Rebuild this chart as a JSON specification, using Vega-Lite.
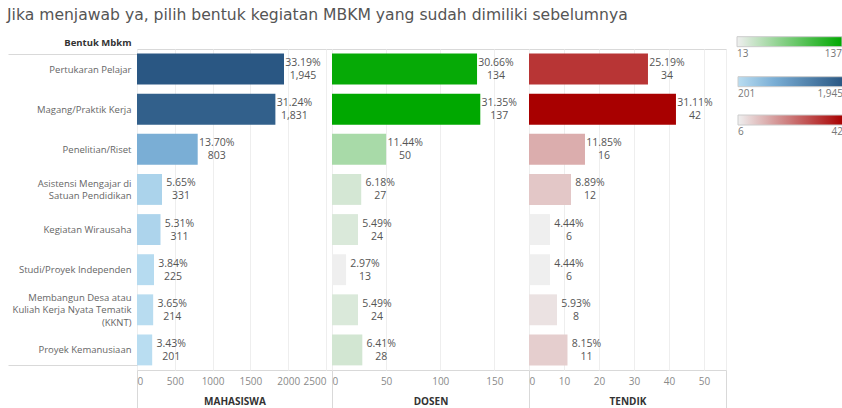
{
  "$schema": "https://vega.github.io/schema/vega-lite/v6.json",
  "padding": {"left": 7, "top": 7, "right": 0, "bottom": 0},
  "background": "white",
  "bounds": "flush",
  "title": {
    "text": "Jika menjawab ya, pilih bentuk kegiatan MBKM yang sudah dimiliki sebelumnya",
    "anchor": "start",
    "frame": "bounds",
    "font": "DejaVu Sans",
    "fontSize": 15.6,
    "fontWeight": "normal",
    "color": "#555555",
    "offset": 13
  },
  "config": {
    "font": "Open Sans",
    "view": {"stroke": "#d9d9d9", "strokeWidth": 1},
    "concat": {"spacing": 0},
    "axisX": {
      "labelFontSize": 10,
      "labelColor": "#8a8a8a",
      "ticks": true,
      "tickSize": 38,
      "tickColor": "#d9d9d9",
      "labelPadding": -32,
      "domain": false,
      "gridColor": "#eeeeee",
      "labelFlush": 10,
      "format": "d",
      "titleFontSize": 10,
      "titleFontWeight": "bold",
      "titleColor": "#333333",
      "titleBaseline": "middle",
      "titleY": 31
    },
    "legend": {
      "orient": "none",
      "direction": "horizontal",
      "gradientLength": 105,
      "gradientThickness": 10,
      "gradientStrokeColor": "#cccccc",
      "gradientStrokeWidth": 1,
      "labelFontSize": 10,
      "labelColor": "#777777",
      "labelOffset": 4,
      "title": null,
      "format": ","
    },
    "text": {"font": "Open Sans", "fontSize": 10.5, "color": "#555555", "baseline": "middle", "align": "center"}
  },
  "datasets": {
    "mbkm": [
      {"bentuk": "Pertukaran Pelajar", "kelompok": "MAHASISWA", "jumlah": 1945, "persen": 0.3319},
      {"bentuk": "Magang/Praktik Kerja", "kelompok": "MAHASISWA", "jumlah": 1831, "persen": 0.3124},
      {"bentuk": "Penelitian/Riset", "kelompok": "MAHASISWA", "jumlah": 803, "persen": 0.1370},
      {"bentuk": "Asistensi Mengajar di Satuan Pendidikan", "kelompok": "MAHASISWA", "jumlah": 331, "persen": 0.0565},
      {"bentuk": "Kegiatan Wirausaha", "kelompok": "MAHASISWA", "jumlah": 311, "persen": 0.0531},
      {"bentuk": "Studi/Proyek Independen", "kelompok": "MAHASISWA", "jumlah": 225, "persen": 0.0384},
      {"bentuk": "Membangun Desa atau Kuliah Kerja Nyata Tematik (KKNT)", "kelompok": "MAHASISWA", "jumlah": 214, "persen": 0.0365},
      {"bentuk": "Proyek Kemanusiaan", "kelompok": "MAHASISWA", "jumlah": 201, "persen": 0.0343},
      {"bentuk": "Pertukaran Pelajar", "kelompok": "DOSEN", "jumlah": 134, "persen": 0.3066},
      {"bentuk": "Magang/Praktik Kerja", "kelompok": "DOSEN", "jumlah": 137, "persen": 0.3135},
      {"bentuk": "Penelitian/Riset", "kelompok": "DOSEN", "jumlah": 50, "persen": 0.1144},
      {"bentuk": "Asistensi Mengajar di Satuan Pendidikan", "kelompok": "DOSEN", "jumlah": 27, "persen": 0.0618},
      {"bentuk": "Kegiatan Wirausaha", "kelompok": "DOSEN", "jumlah": 24, "persen": 0.0549},
      {"bentuk": "Studi/Proyek Independen", "kelompok": "DOSEN", "jumlah": 13, "persen": 0.0297},
      {"bentuk": "Membangun Desa atau Kuliah Kerja Nyata Tematik (KKNT)", "kelompok": "DOSEN", "jumlah": 24, "persen": 0.0549},
      {"bentuk": "Proyek Kemanusiaan", "kelompok": "DOSEN", "jumlah": 28, "persen": 0.0641},
      {"bentuk": "Pertukaran Pelajar", "kelompok": "TENDIK", "jumlah": 34, "persen": 0.2519},
      {"bentuk": "Magang/Praktik Kerja", "kelompok": "TENDIK", "jumlah": 42, "persen": 0.3111},
      {"bentuk": "Penelitian/Riset", "kelompok": "TENDIK", "jumlah": 16, "persen": 0.1185},
      {"bentuk": "Asistensi Mengajar di Satuan Pendidikan", "kelompok": "TENDIK", "jumlah": 12, "persen": 0.0889},
      {"bentuk": "Kegiatan Wirausaha", "kelompok": "TENDIK", "jumlah": 6, "persen": 0.0444},
      {"bentuk": "Studi/Proyek Independen", "kelompok": "TENDIK", "jumlah": 6, "persen": 0.0444},
      {"bentuk": "Membangun Desa atau Kuliah Kerja Nyata Tematik (KKNT)", "kelompok": "TENDIK", "jumlah": 8, "persen": 0.0593},
      {"bentuk": "Proyek Kemanusiaan", "kelompok": "TENDIK", "jumlah": 11, "persen": 0.0815}
    ]
  },
  "hconcat": [
    {
      "width": 195,
      "height": 321,
      "data": {"name": "mbkm"},
      "transform": [{"filter": "datum.kelompok == 'MAHASISWA'"}],
      "encoding": {
        "y": {
          "field": "bentuk",
          "type": "nominal",
          "sort": null,
          "scale": {"paddingInner": 0.23, "paddingOuter": 0.115},
          "axis": {
            "title": "Bentuk Mbkm",
            "titleAngle": 0,
            "titleAlign": "right",
            "titleBaseline": "middle",
            "titleX": -6,
            "titleY": -7,
            "titleFontSize": 9.5,
            "titleFontWeight": "bold",
            "titleColor": "#333333",
            "labelFontSize": 9.5,
            "labelColor": "#666666",
            "labelLineHeight": 12.8,
            "ticks": true,
            "tickBand": "extent",
            "tickSize": 129,
            "tickColor": "#d9d9d9",
            "tickOpacity": {"condition": {"test": "datum.extra || datum.value == 'Proyek Kemanusiaan'", "value": 1}, "value": 0},
            "domain": false,
            "labelPadding": -123,
            "labelLimit": 160,
            "minExtent": 129,
            "maxExtent": 129,
            "labelOffset": {"condition": [{"test": "datum.value == 'Asistensi Mengajar di Satuan Pendidikan'", "value": -6.4}, {"test": "datum.value == 'Membangun Desa atau Kuliah Kerja Nyata Tematik (KKNT)'", "value": -12.8}], "value": 0},
            "labelExpr": "datum.value == 'Asistensi Mengajar di Satuan Pendidikan' ? ['Asistensi Mengajar di', 'Satuan Pendidikan'] : datum.value == 'Membangun Desa atau Kuliah Kerja Nyata Tematik (KKNT)' ? ['Membangun Desa atau', 'Kuliah Kerja Nyata Tematik', '(KKNT)'] : datum.label"
          }
        },
        "x": {
          "field": "jumlah",
          "type": "quantitative",
          "scale": {"domain": [0, 2580], "nice": false},
          "axis": {"title": "MAHASISWA", "values": [0, 500, 1000, 1500, 2000, 2500], "tickOpacity": {"condition": {"test": "datum.value == 0", "value": 1}, "value": 0}}
        }
      },
      "layer": [
        {
          "mark": {"type": "bar"},
          "encoding": {
            "color": {
              "field": "jumlah",
              "type": "quantitative",
              "scale": {"domain": [201, 803, 1945], "range": ["#b9ddf1", "#7aaed5", "#2a5783"], "interpolate": "rgb"},
              "legend": {"legendX": 601, "legendY": 27.7, "values": [201, 1945]}
            }
          }
        },
        {
          "mark": {"type": "text", "dx": 19, "dy": -6},
          "encoding": {"text": {"field": "persen", "type": "quantitative", "format": ".2%"}}
        },
        {
          "mark": {"type": "text", "dx": 19, "dy": 7},
          "encoding": {"text": {"field": "jumlah", "type": "quantitative", "format": ","}}
        }
      ]
    },
    {
      "width": 197,
      "height": 321,
      "data": {"name": "mbkm"},
      "transform": [{"filter": "datum.kelompok == 'DOSEN'"}],
      "encoding": {
        "y": {"field": "bentuk", "type": "nominal", "sort": null, "scale": {"paddingInner": 0.23, "paddingOuter": 0.115}, "axis": null},
        "x": {
          "field": "jumlah",
          "type": "quantitative",
          "scale": {"domain": [0, 182], "nice": false},
          "axis": {"title": "DOSEN", "values": [0, 50, 100, 150], "tickOpacity": {"condition": {"test": "datum.value == 0", "value": 1}, "value": 0}}
        }
      },
      "layer": [
        {
          "mark": {"type": "bar"},
          "encoding": {
            "color": {
              "field": "jumlah",
              "type": "quantitative",
              "scale": {"domain": [13, 137], "range": ["#efefef", "#00a800"], "interpolate": "rgb"},
              "legend": {"legendX": 405, "legendY": -12.3, "values": [13, 137]}
            }
          }
        },
        {
          "mark": {"type": "text", "dx": 19, "dy": -6},
          "encoding": {"text": {"field": "persen", "type": "quantitative", "format": ".2%"}}
        },
        {
          "mark": {"type": "text", "dx": 19, "dy": 7},
          "encoding": {"text": {"field": "jumlah", "type": "quantitative", "format": ","}}
        }
      ]
    },
    {
      "width": 197,
      "height": 321,
      "data": {"name": "mbkm"},
      "transform": [{"filter": "datum.kelompok == 'TENDIK'"}],
      "encoding": {
        "y": {"field": "bentuk", "type": "nominal", "sort": null, "scale": {"paddingInner": 0.23, "paddingOuter": 0.115}, "axis": null},
        "x": {
          "field": "jumlah",
          "type": "quantitative",
          "scale": {"domain": [0, 56.3], "nice": false},
          "axis": {
            "title": "TENDIK",
            "values": [0, 10, 20, 30, 40, 50, 56.3],
            "labelExpr": "datum.value > 55 ? '' : datum.label",
            "tickOpacity": {"condition": {"test": "datum.value == 0 || datum.value > 55", "value": 1}, "value": 0}
          }
        }
      },
      "layer": [
        {
          "mark": {"type": "bar"},
          "encoding": {
            "color": {
              "field": "jumlah",
              "type": "quantitative",
              "scale": {"domain": [6, 42], "range": ["#efefef", "#a80000"], "interpolate": "rgb"},
              "legend": {"legendX": 209, "legendY": 66, "values": [6, 42]}
            }
          }
        },
        {
          "mark": {"type": "text", "dx": 19, "dy": -6},
          "encoding": {"text": {"field": "persen", "type": "quantitative", "format": ".2%"}}
        },
        {
          "mark": {"type": "text", "dx": 19, "dy": 7},
          "encoding": {"text": {"field": "jumlah", "type": "quantitative", "format": ","}}
        }
      ]
    }
  ],
  "resolve": {"scale": {"x": "independent", "color": "independent", "y": "independent"}}
}
